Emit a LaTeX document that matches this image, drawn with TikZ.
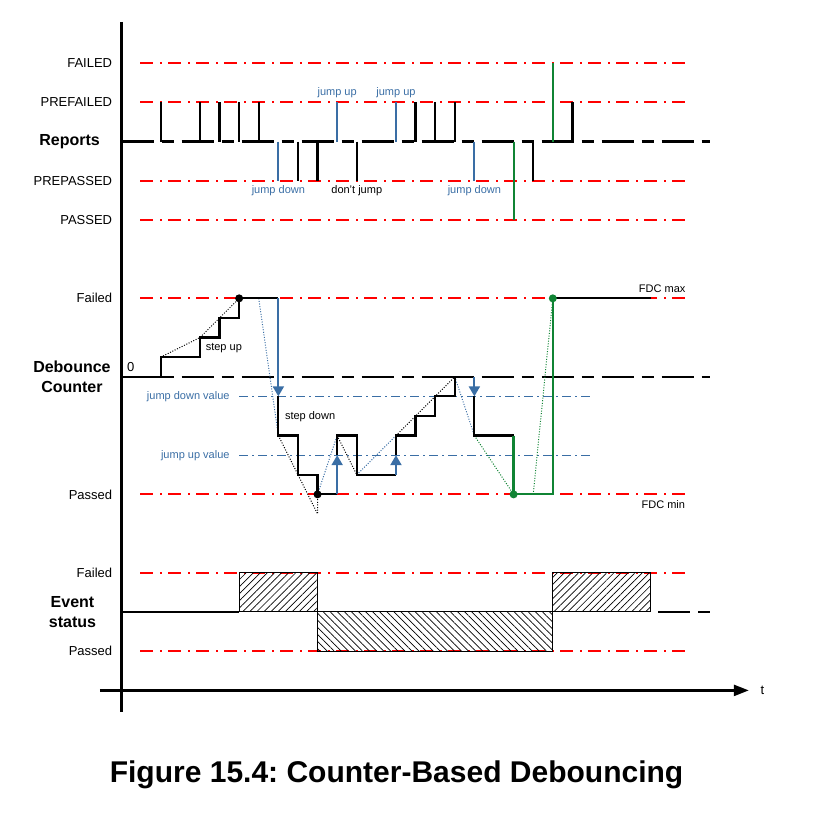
\documentclass[tikz,border=0pt]{standalone}
\usepackage{fontspec}
\setmainfont{Liberation Sans}
\usetikzlibrary{arrows.meta, patterns.meta}
\definecolor{jblue}{RGB}{58,110,165}
\definecolor{dgreen}{RGB}{16,132,52}
\frenchspacing

\begin{document}
\begin{tikzpicture}[
    x=19.6pt, y=19.6pt,
    limit/.style  = {draw=red, line width=2pt, dash pattern=on 13pt off 7pt on 2pt off 6pt},
    jumpv/.style  = {draw=jblue, line width=1pt, dash pattern=on 9pt off 4pt on 2pt off 4pt},
    base/.style   = {draw=black, line width=2.2pt, dash pattern=on 32pt off 8pt on 12pt off 8pt},
    pulse/.style  = {draw=black, line width=2.2pt},
    bpulse/.style = {draw=jblue, line width=2pt},
    gpulse/.style = {draw=dgreen, line width=2.2pt},
    curve/.style  = {draw=black, line width=2.2pt},
    gcurve/.style = {draw=dgreen, line width=2.2pt},
    jarr/.style   = {draw=jblue, line width=2pt, -{Triangle[length=10pt, width=11pt]}},
    trend/.style  = {line width=1pt, dash pattern=on 1pt off 1.6pt},
    dot/.style    = {circle, fill, inner sep=0pt, minimum size=8pt},
    lvl/.style    = {font=\fontsize{13}{15}\selectfont, anchor=east},
    head/.style   = {font=\fontsize{16}{20}\selectfont\bfseries, align=center},
    note/.style   = {font=\fontsize{11}{13}\selectfont},
    hatchA/.style = {draw=black, line width=1pt, pattern={Lines[angle=45, distance=5pt, line width=0.7pt]}},
    hatchB/.style = {draw=black, line width=1pt, pattern={Lines[angle=-45, distance=5pt, line width=0.7pt]}},
]

\useasboundingbox (-6.2,-10.56) rectangle (35.33,31.22);

%% ---- Row positions (y-coords, one unit = one counter step) ----
\def\yR{24}    % reports baseline
\def\yC{12}    % debounce counter zero
\def\yE{0}     % event status baseline
\def\yT{-4}    % time axis

%% ---- Limit lines (red) ----
\foreach \y in {28,26,22,20,16,6,2,-2}{
    \draw[limit] (0.95,\y) -- (29,\y);
}

%% ---- Axes ----
\draw[line width=2.2pt] (0,30.1) -- (0,-5.1);
\draw[line width=2.4pt, -{Triangle[length=15pt, width=11pt]}] (-1.1,\yT) -- (32,\yT);
\node[font=\fontsize{13}{15}\selectfont] (tlab) at (32.7,\yT) {t};

%% ---- Reports ----
\draw[base] (0,\yR) -- (30,\yR);
\foreach \k in {2,4,5,6,7,15,16,17,23}{ \draw[pulse] (\k,\yR) -- (\k,26); }
\foreach \k in {9,10,12,21}{ \draw[pulse] (\k,\yR) -- (\k,22); }
\foreach \k in {11,14}{ \draw[bpulse] (\k,\yR) -- (\k,26); }
\foreach \k in {8,18}{ \draw[bpulse] (\k,\yR) -- (\k,22); }
\draw[gpulse] (20.02,\yR) -- (20.02,20);
\draw[gpulse] (22,\yR) -- (22,28);

\node[note, jblue] (ju1) at (11,26.5) {jump up};
\node[note, jblue] (ju2) at (14,26.5) {jump up};
\node[note, jblue] (jd1) at (8,21.48) {jump down};
\node[note]        (dj)  at (12,21.48) {don't jump};
\node[note, jblue] (jd2) at (18,21.48) {jump down};

%% ---- Debounce counter ----
\draw[jumpv] (6,11) -- (24,11);
\draw[jumpv] (6,8) -- (24,8);
\node[note, jblue, anchor=east] (jdv) at (5.69,11) {jump down value};
\node[note, jblue, anchor=east] (juv) at (5.69,8) {jump up value};

\draw[base] (0,\yC) -- (30,\yC);

% trend lines
\draw[trend] (2,13) -- (4,14) -- (5,15) -- (6,16);
\draw[trend, jblue] (7,16) -- (8,9);
\draw[trend] (8,9) -- (10,5) -- (10,6);
\draw[trend, jblue] (10,6) -- (11,9);
\draw[trend] (11,9) -- (12,7);
\draw[trend, jblue] (12,7) -- (14,9);
\draw[trend] (14,9) -- (17,12);
\draw[trend, jblue] (17,12) -- (18,9);
\draw[trend, dgreen] (18,9) -- (20,6);
\draw[trend, dgreen] (21,6) -- (22,16);

% counter value
\draw[curve] (0,\yC) -- (2,12) -- (2,13) -- (4,13) -- (4,14) -- (5,14) -- (5,15)
    -- (6,15) -- (6,16) -- (8,16);
\draw[curve] (8,11) -- (8,9) -- (9,9) -- (9,7) -- (10,7) -- (10,6) -- (11,6);
\draw[curve] (11,8) -- (11,9) -- (12,9) -- (12,7) -- (14,7);
\draw[curve] (14,8) -- (14,9) -- (15,9) -- (15,10) -- (16,10) -- (16,11)
    -- (17,11) -- (17,12) -- (18,12);
\draw[curve] (18,11) -- (18,9) -- (20,9);
\draw[gcurve] (20,9) -- (20,6) -- (22,6) -- (22,16);
\draw[curve] (22,16) -- (27,16);

% jumps
\draw[jarr] (8,16) -- (8,11);
\draw[jarr] (11,6) -- (11,8);
\draw[jarr] (14,7) -- (14,8);
\draw[jarr] (18,12) -- (18,11);

\node[dot]         (maxA) at (6,16) {};
\node[dot]         (minA) at (10,6) {};
\node[dot, dgreen] (minB) at (20,6) {};
\node[dot, dgreen] (maxB) at (22,16) {};

\node[note] (sup) at (5.22,13.45) {step up};
\node[note] (sdn) at (9.62,9.96) {step down};
\node[note] (fmax) at (27.58,16.48) {FDC max};
\node[note] (fmin) at (27.64,5.46) {FDC min};
\node[font=\fontsize{13}{15}\selectfont] (zero) at (0.47,12.5) {0};

%% ---- Event status ----
\draw[line width=1.4pt] (0,\yE) -- (6,\yE);
\draw[hatchA] (6,0) rectangle (10,2);
\draw[hatchB] (10,-2) rectangle (22,0);
\draw[hatchA] (22,0) rectangle (27,2);
\draw[line width=2.2pt] (27.37,\yE) -- (29,\yE);
\draw[line width=2.2pt] (29.41,\yE) -- (30.02,\yE);

%% ---- Row labels (left) ----
\node[lvl] (lF)  at (-0.3,28) {FAILED};
\node[lvl] (lPF) at (-0.3,26) {PREFAILED};
\node[lvl] (lPP) at (-0.3,22) {PREPASSED};
\node[lvl] (lP)  at (-0.3,20) {PASSED};
\node[head, anchor=east] (rep) at (-0.93,\yR) {Reports};

\node[lvl] (cF) at (-0.3,16) {Failed};
\node[lvl] (cP) at (-0.3,6) {Passed};
\node[head] (deb) at (-2.53,\yC) {Debounce\\Counter};

\node[lvl] (eF) at (-0.3,2) {Failed};
\node[lvl] (eP) at (-0.3,-2) {Passed};
\node[head] (evt) at (-2.5,\yE) {Event\\status};

%% ---- Caption ----
\node[font=\fontsize{30}{34}\selectfont\bfseries] (cap) at (14.03,-8.32)
    {Figure 15.4: Counter-Based Debouncing};

\end{tikzpicture}
\end{document}
